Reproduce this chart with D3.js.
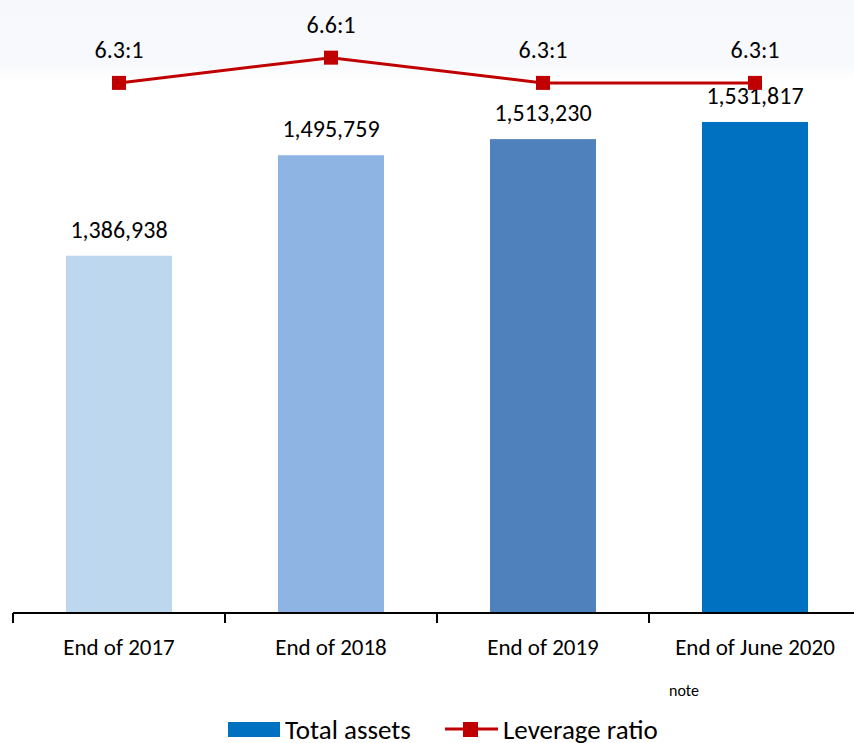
<!DOCTYPE html>
<html>
<head>
<meta charset="utf-8">
<script src="https://cdn.jsdelivr.net/npm/d3@7"></script>
<style>
  body { margin: 0; background: #fff; }
  svg text { font-family: Carlito, Calibri, Lato, "Open Sans", sans-serif; fill: #000; }
</style>
</head>
<body>
<div id="chart"></div>
<script>
// data
const categories = ["End of 2017", "End of 2018", "End of 2019", "End of June 2020"];
const totalAssets = [1386938, 1495759, 1513230, 1531817];
const leverage = [6.3, 6.6, 6.3, 6.3];
const leverageLabels = ["6.3:1", "6.6:1", "6.3:1", "6.3:1"];
const barColors = ["#BDD7EE", "#8EB4E3", "#4F81BD", "#0070C0"];

const width = 854, height = 743;
const bottom = 613;

const svg = d3.select("#chart")
    .append("svg")
    .attr("width", width)
    .attr("height", height);

// faint band at the top
const grad = svg.append("defs").append("linearGradient")
    .attr("id", "topband").attr("x1", 0).attr("x2", 0).attr("y1", 0).attr("y2", 1);
grad.append("stop").attr("offset", "0%").attr("stop-color", "#f6f8fc");
grad.append("stop").attr("offset", "80%").attr("stop-color", "#f8f9fc");
grad.append("stop").attr("offset", "100%").attr("stop-color", "#ffffff");
svg.append("rect")
    .attr("x", 0).attr("y", 0)
    .attr("width", width).attr("height", 80)
    .attr("fill", "url(#topband)");

const x = d3.scaleBand()
    .domain(categories)
    .range([13, 861])
    .paddingInner(0.5)
    .paddingOuter(0.25);

const y = d3.scaleLinear()
    .domain([1000000, 1600000])
    .range([bottom, 59]);

const y2 = d3.scaleLinear()
    .domain([0, 7])
    .range([bottom, 24]);

// bars
svg.selectAll(".bar")
    .data(totalAssets)
    .enter()
    .append("rect")
    .attr("class", "bar")
    .attr("x", (d, i) => x(categories[i]))
    .attr("y", d => y(d))
    .attr("width", x.bandwidth())
    .attr("height", d => bottom - y(d))
    .attr("fill", (d, i) => barColors[i]);

// bar labels
svg.selectAll(".barlabel")
    .data(totalAssets)
    .enter()
    .append("text")
    .attr("class", "barlabel")
    .attr("x", (d, i) => x(categories[i]) + x.bandwidth() / 2)
    .attr("y", d => y(d) - 18)
    .attr("text-anchor", "middle")
    .attr("font-size", "24px")
    .text(d => d3.format(",")(d));

// x axis
const step = x.step();
const axis = svg.append("g").attr("transform", `translate(0,${bottom})`);
axis.append("line")
    .attr("x1", 13).attr("x2", width)
    .attr("stroke", "#000").attr("stroke-width", 2);
axis.selectAll(".tick")
    .data(d3.range(categories.length))
    .enter()
    .append("line")
    .attr("x1", i => x(categories[i]) - (step - x.bandwidth()) / 2)
    .attr("x2", i => x(categories[i]) - (step - x.bandwidth()) / 2)
    .attr("y1", 0).attr("y2", 10)
    .attr("stroke", "#000").attr("stroke-width", 2);
axis.selectAll(".xlabel")
    .data(categories)
    .enter()
    .append("text")
    .attr("x", d => x(d) + x.bandwidth() / 2)
    .attr("y", 42)
    .attr("text-anchor", "middle")
    .attr("font-size", "23px")
    .text(d => d);

// leverage line
const line = d3.line()
    .x((d, i) => x(categories[i]) + x.bandwidth() / 2)
    .y(d => y2(d));

svg.append("path")
    .datum(leverage)
    .attr("d", line)
    .attr("fill", "none")
    .attr("stroke", "#C00000")
    .attr("stroke-width", 3);

svg.selectAll(".marker")
    .data(leverage)
    .enter()
    .append("rect")
    .attr("x", (d, i) => x(categories[i]) + x.bandwidth() / 2 - 7)
    .attr("y", d => y2(d) - 7)
    .attr("width", 14).attr("height", 14)
    .attr("fill", "#C00000");

svg.selectAll(".linelabel")
    .data(leverage)
    .enter()
    .append("text")
    .attr("x", (d, i) => x(categories[i]) + x.bandwidth() / 2)
    .attr("y", d => y2(d) - 25)
    .attr("text-anchor", "middle")
    .attr("font-size", "24px")
    .text((d, i) => leverageLabels[i]);

// legend
const legend = svg.append("g");
legend.append("rect")
    .attr("x", 228).attr("y", 722)
    .attr("width", 52).attr("height", 15)
    .attr("fill", "#0070C0");
legend.append("text")
    .attr("x", 285).attr("y", 739)
    .attr("font-size", "27px")
    .text("Total assets");
legend.append("line")
    .attr("x1", 445).attr("x2", 498)
    .attr("y1", 729).attr("y2", 729)
    .attr("stroke", "#C00000").attr("stroke-width", 3);
legend.append("rect")
    .attr("x", 463).attr("y", 722)
    .attr("width", 15).attr("height", 15)
    .attr("fill", "#C00000");
legend.append("text")
    .attr("x", 503).attr("y", 739)
    .attr("font-size", "27px")
    .text("Leverage ratio");
legend.append("text")
    .attr("x", 669).attr("y", 696)
    .attr("font-size", "16px")
    .text("note");
</script>
</body>
</html>
